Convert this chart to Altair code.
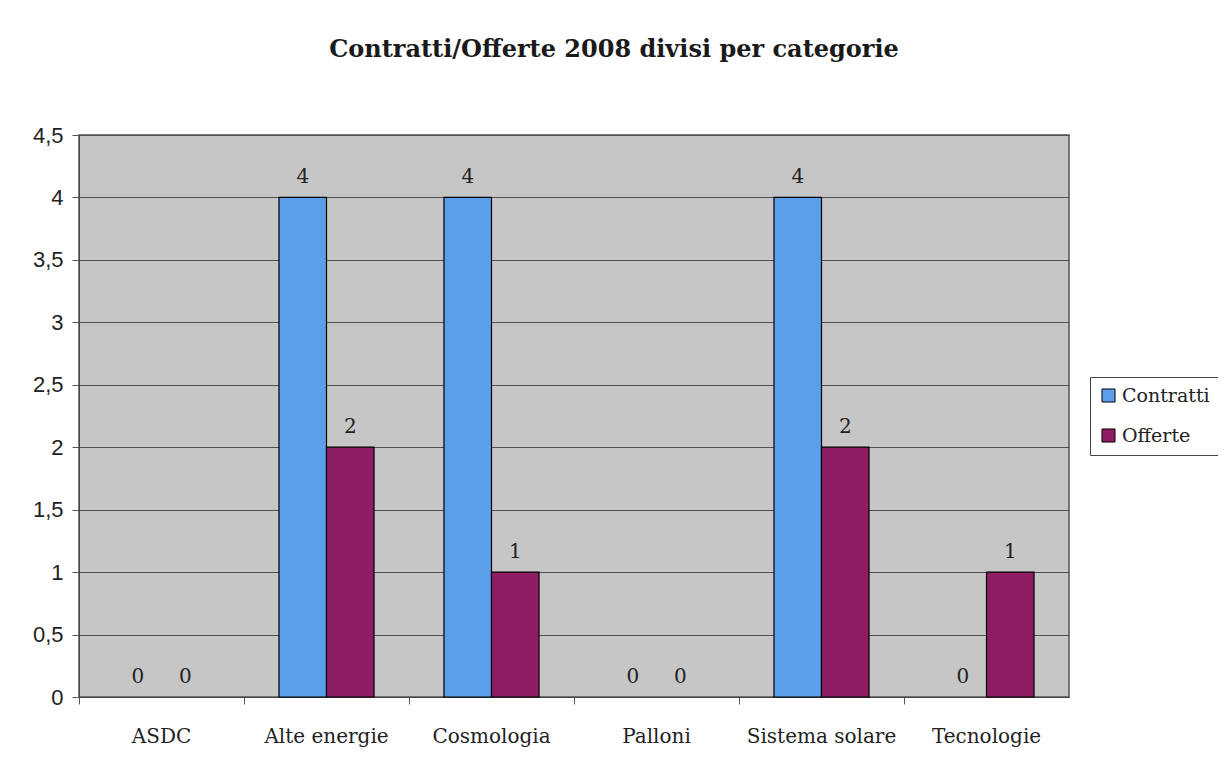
import altair as alt
import pandas as pd

categories = ["ASDC", "Alte energie", "Cosmologia", "Palloni", "Sistema solare", "Tecnologie"]
contratti = [0, 4, 4, 0, 4, 0]
offerte = [0, 2, 1, 0, 2, 1]
series = ["Contratti", "Offerte"]
colors = ["#5B9FEA", "#8E1D64"]
y_ticks = [0, 0.5, 1, 1.5, 2, 2.5, 3, 3.5, 4, 4.5]

rows = []
for c, a, b in zip(categories, contratti, offerte):
    rows.append({"categoria": c, "serie": "Contratti", "valore": a})
    rows.append({"categoria": c, "serie": "Offerte", "valore": b})
df = pd.DataFrame(rows)

SERIF = "DejaVu Serif"
SANS = "Liberation Sans"

x = alt.X("categoria:N", sort=categories, title=None,
          scale=alt.Scale(paddingInner=0.424, paddingOuter=0.212),
          axis=alt.Axis(labelAngle=0, labelFont=SERIF, labelFontSize=20, labelColor="#222",
                        labelPadding=22, tickSize=7, tickColor="#555", domainColor="#444",
                        bandPosition=-0.368, grid=False, labelBaseline="top",
                        labelOffset=0))
xo = alt.XOffset("serie:N", sort=series, scale=alt.Scale(domain=series, paddingInner=0, paddingOuter=0))
y = alt.Y("valore:Q", title=None,
          scale=alt.Scale(domain=[0, 4.5], nice=False),
          axis=alt.Axis(values=y_ticks, labelExpr="replace(toString(datum.value), '.', ',')",
                        labelFont=SANS, labelFontSize=22, labelColor="#222", labelPadding=9,
                        tickSize=7, tickColor="#555", domainColor="#444",
                        gridColor="#505050", gridWidth=1, gridOpacity=1))

bars = alt.Chart(df).transform_filter("datum.valore > 0").mark_bar(
    stroke="black", strokeWidth=1.2).encode(
    x=x, xOffset=xo, y=y,
    color=alt.Color("serie:N", sort=series,
                    scale=alt.Scale(domain=series, range=colors),
                    legend=alt.Legend(title=None, orient="none", legendX=1011, legendY=242,
                                      symbolType="square", symbolSize=170,
                                      symbolStrokeColor="black", symbolStrokeWidth=1,
                                      labelFont=SERIF, labelFontSize=19, labelColor="#222",
                                      labelOffset=4, rowPadding=20, padding=9,
                                      strokeColor="#444", fillColor="white")),
)

labels = alt.Chart(df).mark_text(font=SERIF, fontSize=20, color="#222", dy=-20).encode(
    x=alt.X("categoria:N", sort=categories),
    xOffset=alt.XOffset("serie:N", sort=series),
    y=alt.Y("valore:Q"),
    text=alt.Text("valore:Q"),
)

chart = alt.layer(bars, labels).properties(
    width=990, height=562,
    title=alt.TitleParams("Contratti/Offerte 2008 divisi per categorie",
                          font=SERIF, fontSize=24, fontWeight="bold", color="#1a1a1a",
                          anchor="middle", dx=40, offset=43, baseline="alphabetic"),
    autosize=alt.AutoSizeParams(type="none"),
    padding={"left": 71, "top": 127, "right": 149, "bottom": 70},
).configure(background="white").configure_view(fill="#C6C6C6", stroke="#555", strokeWidth=1.5)

chart.save("out.html", embed_options={"renderer": "svg", "actions": False})
